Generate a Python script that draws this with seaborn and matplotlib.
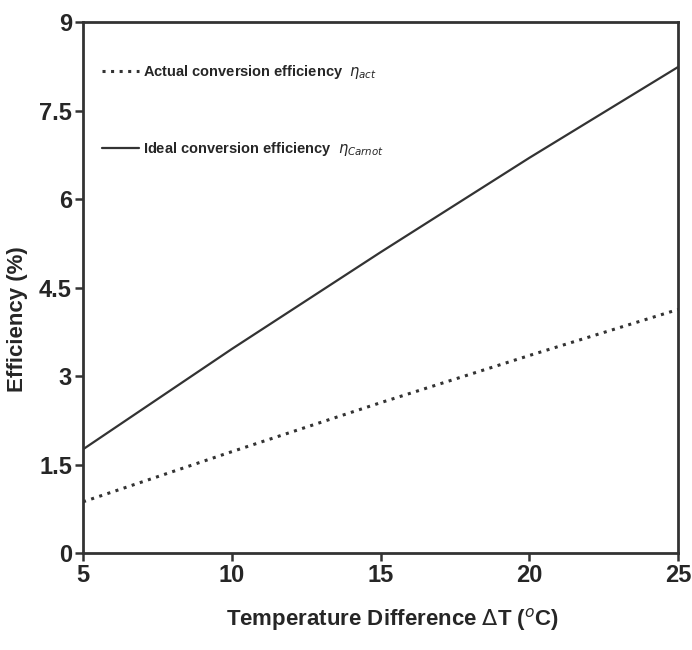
import pandas as pd
import matplotlib.pyplot as plt
import seaborn as sns

# Values
delta_t = [5, 10, 15, 20, 25]
eta_carnot = [1.76, 3.46, 5.10, 6.70, 8.24]
eta_actual = [0.87, 1.72, 2.55, 3.35, 4.13]

x_ticks = [5, 10, 15, 20, 25]
y_ticks = [0, 1.5, 3, 4.5, 6, 7.5, 9]
y_tick_labels = ["0", "1.5", "3", "4.5", "6", "7.5", "9"]

sns.set_style("white")
plt.rcParams["font.family"] = ["Liberation Sans", "DejaVu Sans"]

df = pd.DataFrame({
    "dT": delta_t,
    "carnot": eta_carnot,
    "actual": eta_actual
})

line_color = "#333333"

fig = plt.figure(figsize=(6.92, 6.5), dpi=100)
ax = fig.add_axes([0.12, 0.149, 0.86, 0.817])

sns.lineplot(
    data=df, x="dT", y="actual", ax=ax,
    color=line_color, linewidth=2.2, linestyle=(0, (1, 1.8)),
    label=r"Actual conversion efficiency  $\eta_{act}$"
)
sns.lineplot(
    data=df, x="dT", y="carnot", ax=ax,
    color=line_color, linewidth=1.6,
    label=r"Ideal conversion efficiency  $\eta_{Carnot}$"
)

ax.set_xlim(5, 25)
ax.set_ylim(0, 9)
ax.set_xticks(x_ticks)
ax.set_yticks(y_ticks)
ax.set_yticklabels(y_tick_labels)

for label in ax.get_xticklabels() + ax.get_yticklabels():
    label.set_fontsize(17)
    label.set_fontweight("bold")

ax.tick_params(axis="both", direction="out", length=6, width=1.8,
               color=line_color, bottom=True, left=True, pad=2)

for spine in ax.spines.values():
    spine.set_visible(True)
    spine.set_color(line_color)
    spine.set_linewidth(2)

ax.set_xlabel(r"Temperature Difference $\Delta$T ($^{o}$C)",
              fontsize=16, fontweight="bold")
ax.xaxis.set_label_coords(0.52, -0.1)
ax.set_ylabel("Efficiency (%)", fontsize=16, fontweight="bold")
ax.yaxis.set_label_coords(-0.092, 0.44)

ax.legend(
    loc="upper left", bbox_to_anchor=(0.01, 0.947),
    frameon=False, handlelength=2.5,
    handletextpad=0.3, labelspacing=4.0,
    prop={"weight": "bold", "size": 10.5}
)

plt.savefig("out.png", dpi=100)
